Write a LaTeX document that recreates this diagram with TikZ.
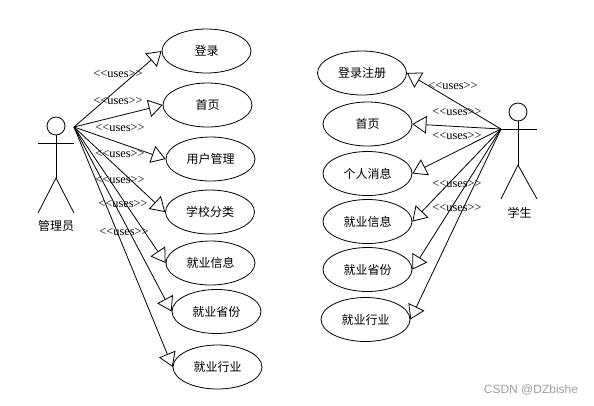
\documentclass[tikz,border=0pt]{standalone}
\usepackage{fontspec}
\setmainfont{Liberation Serif}
\setsansfont{Liberation Sans}
\newfontfamily\cjk{Noto Sans CJK SC}
\usetikzlibrary{arrows.meta, shapes.geometric}
\newcommand{\usestext}{{<}{<}uses{>}{>}}

\begin{document}
\begin{tikzpicture}[
        x=0.75pt, y=-0.75pt,
        line width=0.6pt,
        usecase/.style={
            draw,
            ellipse,
            inner sep=0pt,
            minimum width=66.75pt,
            minimum height=33pt,
            font=\cjk\fontsize{9}{11}\selectfont
        },
        actorhead/.style={
            draw,
            circle,
            inner sep=0pt,
            minimum size=13.5pt
        },
        actorname/.style={
            inner sep=0pt,
            font=\cjk\fontsize{9}{11}\selectfont
        },
        arrow/.style={
            -{Triangle[open, length=10.5pt, width=13.25pt]}
        },
        labeltext/.style={
            inner sep=0pt,
            yshift=-0.75pt,
            font=\fontsize{9.3}{11}\selectfont
        },
        watermark/.style={
            inner sep=0pt,
            text=gray!75,
            font=\sffamily\fontsize{9}{10}\selectfont
        }
    ]

    \useasboundingbox (0,0) rectangle (594,405);

    \node[actorhead] (adminhead) at (56,126) {};
    \node[actorname] (adminname) at (56,226) {管理员};
    \coordinate (adminhand) at (74,127);
    \draw (adminhead.south) -- (56,178) coordinate (adminhip);
    \draw (38,143) -- (74,143);
    \draw (38,213) -- (adminhip) -- (74,213);

    \node[usecase] (login) at (206.5,51) {登录};
    \node[usecase] (home) at (207.5,105) {首页};
    \node[usecase] (users) at (210.5,159) {用户管理};
    \node[usecase] (school) at (210,212) {学校分类};
    \node[usecase] (jobinfo) at (210.5,263) {就业信息};
    \node[usecase] (province) at (216.5,311.5) {就业省份};
    \node[usecase] (industry) at (217.5,367) {就业行业};

    \draw[arrow] (adminhand) -- (login.west);
    \draw[arrow] (adminhand) -- (home.west);
    \draw[arrow] (adminhand) -- (users.west);
    \draw[arrow] (adminhand) -- (school.west);
    \draw[arrow] (adminhand) -- (jobinfo.west);
    \draw[arrow] (adminhand) -- (province.west);
    \draw[arrow] (adminhand) -- (industry.west);

    \node[labeltext] (uses1) at (118,73) {\usestext};
    \node[labeltext] (uses2) at (118,100) {\usestext};
    \node[labeltext] (uses3) at (120,127) {\usestext};
    \node[labeltext] (uses4) at (120,153) {\usestext};
    \node[labeltext] (uses5) at (120,179) {\usestext};
    \node[labeltext] (uses6) at (123,203) {\usestext};
    \node[labeltext] (uses7) at (124,231) {\usestext};

    \node[actorhead] (studenthead) at (518,112) {};
    \node[actorname] (studentname) at (519.5,213) {学生};
    \coordinate (studenthand) at (501,129);
    \draw (studenthead.south) -- (518,165) coordinate (studenthip);
    \draw (501,129) -- (537,129);
    \draw (501,199) -- (studenthip) -- (537,199);

    \node[usecase] (register) at (362,73) {登录注册};
    \node[usecase] (shome) at (367.5,124) {首页};
    \node[usecase] (personal) at (367.5,173.5) {个人消息};
    \node[usecase] (sjobinfo) at (367.5,221.5) {就业信息};
    \node[usecase] (sprovince) at (367.5,269.5) {就业省份};
    \node[usecase] (sindustry) at (365.5,319.5) {就业行业};

    \draw[arrow] (studenthand) -- (register.east);
    \draw[arrow] (studenthand) -- (shome.east);
    \draw[arrow] (studenthand) -- (personal.east);
    \draw[arrow] (studenthand) -- (sjobinfo.east);
    \draw[arrow] (studenthand) -- (sprovince.east);
    \draw[arrow] (studenthand) -- (sindustry.east);

    \node[labeltext] (suses1) at (453,85) {\usestext};
    \node[labeltext] (suses2) at (457,111) {\usestext};
    \node[labeltext] (suses3) at (457,135) {\usestext};
    \node[labeltext] (suses4) at (457,183) {\usestext};
    \node[labeltext] (suses5) at (457,207) {\usestext};

    \node[watermark] (mark) at (531,390) {CSDN @DZbishe};

    \end{tikzpicture}
\end{document}
